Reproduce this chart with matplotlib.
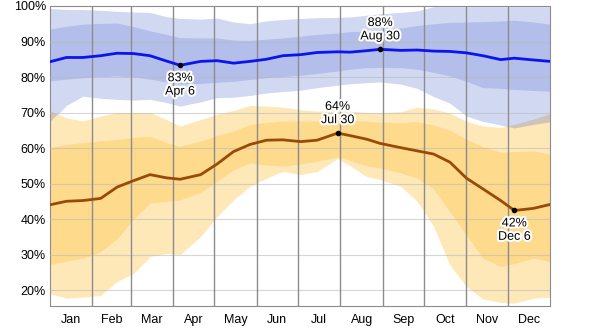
import numpy as np
import matplotlib.pyplot as plt
import matplotlib.patheffects as pe

plt.rcParams['font.family'] = ['Liberation Sans', 'DejaVu Sans']

# day of year for each sample (Jan 1 = 0)
days = [0, 12, 24, 37, 49, 61, 73, 85, 95, 110, 122, 134, 146, 158, 170, 183,
        195, 210, 219, 231, 241, 256, 268, 280, 292, 304, 316, 329, 339, 353, 365]

# upper series (blue), percent
blue_mean = [84.3, 85.5, 85.5, 86.0, 86.7, 86.6, 86.0, 84.5, 83.3, 84.4, 84.6, 83.9, 84.4, 85.0, 86.0, 86.3,
             86.9, 87.1, 87.0, 87.4, 87.8, 87.5, 87.6, 87.3, 87.2, 86.8, 86.0, 84.9, 85.3, 84.8, 84.4]
blue_p75 = [93.5, 94.3, 94.9, 95.1, 95.2, 94.2, 93.0, 92.0, 91.1, 91.0, 91.0, 90.4, 90.3, 90.7, 91.0, 91.5,
            92.0, 92.4, 92.8, 92.9, 93.2, 93.8, 94.5, 95.0, 95.4, 95.5, 95.6, 95.8, 96.0, 95.5, 94.9]
blue_p90 = [99.3, 99.0, 99.0, 98.8, 98.5, 98.3, 98.2, 97.0, 96.5, 96.3, 96.6, 95.5, 95.0, 95.8, 96.2, 96.5,
            96.7, 96.8, 96.9, 97.4, 97.8, 98.2, 98.6, 99.8, 99.8, 99.8, 99.8, 99.8, 99.8, 99.8, 99.8]
blue_p25 = [78.9, 79.4, 79.8, 80.1, 80.3, 80.0, 79.4, 78.6, 78.0, 78.2, 78.5, 78.8, 79.3, 79.8, 80.1, 80.5,
            81.0, 81.7, 82.2, 82.6, 82.7, 82.6, 82.2, 81.3, 80.3, 78.8, 77.0, 76.8, 76.5, 76.2, 76.0]
blue_p10 = [67.2, 72.0, 74.6, 74.0, 73.7, 73.5, 73.7, 72.8, 71.8, 73.0, 74.2, 74.3, 74.8, 75.5, 75.9, 76.3,
            77.0, 77.7, 78.1, 78.4, 78.6, 78.0, 76.8, 74.5, 72.6, 69.0, 67.5, 66.5, 65.5, 66.5, 67.2]

# lower series (orange), percent
orange_mean = [44.0, 45.0, 45.2, 45.8, 49.0, 50.8, 52.5, 51.6, 51.2, 52.5, 55.5, 59.0, 61.0, 62.2, 62.3, 61.8,
               62.2, 64.2, 63.5, 62.5, 61.3, 60.1, 59.2, 58.3, 56.0, 51.5, 48.5, 45.2, 42.4, 43.0, 44.1]
orange_p90 = [70.4, 68.5, 67.6, 69.0, 70.0, 70.0, 70.0, 68.0, 66.2, 68.0, 69.5, 70.6, 72.0, 71.8, 71.5, 70.8,
              70.4, 70.4, 70.4, 70.0, 70.0, 70.2, 71.5, 71.0, 69.8, 67.5, 66.2, 65.8, 66.5, 68.0, 69.5]
orange_p75 = [60.1, 61.0, 61.5, 62.0, 62.4, 63.0, 63.3, 61.5, 60.5, 62.0, 63.5, 64.8, 66.6, 67.2, 67.6, 67.6,
              67.6, 68.0, 67.8, 67.6, 67.3, 67.1, 67.4, 66.5, 65.0, 62.5, 60.3, 58.8, 59.0, 59.2, 58.3]
orange_p25 = [27.1, 28.2, 29.0, 30.8, 34.5, 40.0, 44.5, 45.0, 45.4, 47.5, 50.6, 53.9, 55.8, 55.2, 54.9, 55.5,
              56.3, 57.5, 56.5, 55.0, 54.4, 53.0, 51.5, 48.5, 42.0, 35.5, 29.0, 26.6, 27.5, 29.0, 28.0]
orange_p10 = [19.0, 17.7, 18.0, 18.5, 22.4, 24.7, 29.4, 30.3, 30.0, 35.1, 40.7, 45.4, 49.2, 51.5, 53.4, 52.5,
              53.4, 57.0, 55.0, 52.0, 51.1, 49.2, 45.0, 38.0, 27.0, 21.0, 17.5, 16.5, 16.3, 17.7, 18.0]

months = ['Jan', 'Feb', 'Mar', 'Apr', 'May', 'Jun', 'Jul', 'Aug', 'Sep', 'Oct', 'Nov', 'Dec']
month_len = [31, 28, 31, 30, 31, 30, 31, 31, 30, 31, 30, 31]
month_start = np.concatenate([[0], np.cumsum(month_len)])

fig = plt.figure(figsize=(6, 3.29), dpi=100)
ax = fig.add_axes([50 / 600, 23 / 329, 500 / 600, 300 / 329])

d = np.array(days)
ax.fill_between(d, blue_p10, blue_p90, color='#d1d9f2', lw=0, zorder=1)
ax.fill_between(d, blue_p25, blue_p75, color='#b3bfea', lw=0, zorder=2)
ax.fill_between(d, orange_p10, orange_p90, color='#fee8b8', lw=0, zorder=1)
ax.fill_between(d, orange_p25, orange_p75, color='#fdda8c', lw=0, zorder=2)
# where the two outer bands overlap
bp10 = np.array(blue_p10)
op90 = np.array(orange_p90)
ax.fill_between(d, bp10, op90, where=op90 > bp10, interpolate=True,
                color='#cec4bb', lw=0, zorder=2)

# grid
for y in range(20, 100, 10):
    ax.axhline(y, color='#bbbbbb', lw=0.8, alpha=0.6, zorder=3)
for m in month_start[1:-1]:
    ax.axvline(m, color='#8c8c8c', lw=1, zorder=3)

ax.plot(d, blue_mean, color='#0a14f0', lw=2, zorder=4)
ax.plot(d, orange_mean, color='#9a4a08', lw=2, zorder=4)

halo = [pe.withStroke(linewidth=3, foreground='white')]

def mark(i, series, above):
    x, y = days[i], series[i]
    ax.plot(x, y, 'o', color='black', ms=3, zorder=5)
    m = np.searchsorted(month_start, x, side='right') - 1
    label = '%d%%\n%s %d' % (round(y), months[m], x - month_start[m] + 1)
    off = 5 if above else -5
    ax.annotate(label, (x, y), xytext=(0, off), textcoords='offset points',
                ha='center', va='bottom' if above else 'top', fontsize=9,
                linespacing=1.15, path_effects=halo, zorder=6)

mark(int(np.argmin(blue_mean)), blue_mean, False)
mark(int(np.argmax(blue_mean)), blue_mean, True)
mark(int(np.argmax(orange_mean)), orange_mean, True)
mark(int(np.argmin(orange_mean)), orange_mean, False)

ax.set_xlim(0, 365)
ax.set_ylim(15.5, 100)
ax.set_yticks(range(20, 101, 10))
ax.set_yticklabels(['%d%%' % v for v in range(20, 101, 10)], fontsize=9)
ax.set_xticks((month_start[:-1] + month_start[1:]) / 2)
ax.set_xticklabels(months, fontsize=9)
ax.tick_params(length=0, pad=3)
ax.tick_params(axis='x', pad=6)
for s in ax.spines.values():
    s.set_color('#8c8c8c')

fig.savefig('out.png', dpi=100)
